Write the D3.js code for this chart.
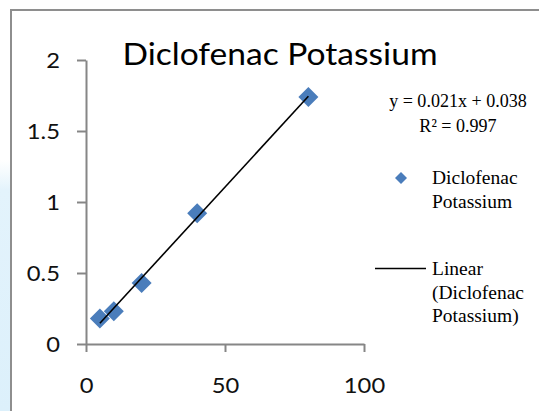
<!DOCTYPE html>
<html>
<head>
<meta charset="utf-8">
<script src="https://cdn.jsdelivr.net/npm/d3@7"></script>
<style>
  html, body { margin: 0; padding: 0; background: #ffffff; }
  svg { display: block; }
</style>
</head>
<body>
<svg id="chart" width="539" height="411"></svg>
<script>
// ---- data ----
const xValues = [5, 10, 20, 40, 80];
const yValues = [0.18, 0.23, 0.43, 0.92, 1.74];
const xTicks = [0, 50, 100];
const xTickLabels = ["0", "50", "100"];
const yTicks = [0, 0.5, 1, 1.5, 2];
const yTickLabels = ["0", "0.5", "1", "1.5", "2"];
const titleText = "Diclofenac Potassium";
const equationLines = ["y = 0.021x + 0.038", "R\u00B2 = 0.997"];
const seriesLegend = ["Diclofenac", "Potassium"];
const trendLegend = ["Linear", "(Diclofenac", "Potassium)"];

// ---- setup ----
const svg = d3.select("#chart");
const W = 539, H = 411;
const sansFont = "Lato, 'Open Sans', sans-serif";
const serifFont = "'Liberation Serif', 'DejaVu Serif', serif";

// stretch text horizontally by factor
function stretch(sel, sx) {
  sel.each(function () {
    const w = this.getComputedTextLength();
    d3.select(this).attr("textLength", w * sx).attr("lengthAdjust", "spacingAndGlyphs");
  });
}

// background strip on the left
const defs = svg.append("defs");
const grad = defs.append("linearGradient").attr("id", "strip").attr("x1", 0).attr("y1", 0).attr("x2", 0).attr("y2", 1);
grad.append("stop").attr("offset", "0%").attr("stop-color", "#e6f4fc").attr("stop-opacity", 0);
grad.append("stop").attr("offset", "12%").attr("stop-color", "#e3f3fc").attr("stop-opacity", 1);
grad.append("stop").attr("offset", "100%").attr("stop-color", "#dcf0fb").attr("stop-opacity", 1);
svg.append("rect").attr("x", 0).attr("y", 160).attr("width", 10).attr("height", H - 160).attr("fill", "url(#strip)");

// frame
svg.append("path").attr("d", `M11,${H} V10 H${W}`).attr("fill", "none")
  .attr("stroke", "#8e8e8e").attr("stroke-width", 2);

// ---- scales ----
const x = d3.scaleLinear().domain([0, 100]).range([86, 364]);
const y = d3.scaleLinear().domain([0, 2]).range([344, 60]);

// ---- axes ----
const axisColor = "#868686";
const yAxis = svg.append("g").attr("transform", `translate(${x(0)},0)`)
  .call(d3.axisLeft(y).tickValues(yTicks).tickSize(9).tickSizeOuter(0).tickPadding(17)
    .tickFormat((d, i) => yTickLabels[i]));
const xAxis = svg.append("g").attr("transform", `translate(0,${y(0)})`)
  .call(d3.axisBottom(x).tickValues(xTicks).tickSize(8).tickSizeOuter(0).tickPadding(26)
    .tickFormat((d, i) => xTickLabels[i]));
[yAxis, xAxis].forEach(a => {
  a.select(".domain").attr("stroke", axisColor).attr("stroke-width", 2);
  a.selectAll(".tick line").attr("stroke", axisColor).attr("stroke-width", 2);
  a.selectAll(".tick text").attr("fill", "#111").style("font-family", sansFont).style("font-size", "21px");
});
yAxis.selectAll(".tick text").attr("dy", "0.36em");
stretch(yAxis.selectAll(".tick text"), 1.13);
stretch(xAxis.selectAll(".tick text"), 1.13);

// ---- trendline (least squares from the data) ----
const n = xValues.length;
const mx = d3.mean(xValues), my = d3.mean(yValues);
let sxy = 0, sxx = 0;
for (let i = 0; i < n; i++) { sxy += (xValues[i] - mx) * (yValues[i] - my); sxx += (xValues[i] - mx) ** 2; }
const slope = sxy / sxx, intercept = my - slope * mx;
const xExt = d3.extent(xValues);

// ---- markers ----
const diamond = r => `M0,${-r} L${r},0 L0,${r} L${-r},0 Z`;
const markerColor = "#4a7dbb";
svg.append("g").selectAll("path").data(xValues).join("path")
  .attr("d", diamond(10))
  .attr("transform", (d, i) => `translate(${x(d)},${y(yValues[i])})`)
  .attr("fill", markerColor);

svg.append("line")
  .attr("x1", x(xExt[0])).attr("y1", y(intercept + slope * xExt[0]))
  .attr("x2", x(xExt[1])).attr("y2", y(intercept + slope * xExt[1]))
  .attr("stroke", "#000").attr("stroke-width", 1.6);

// ---- title ----
const title = svg.append("text").attr("x", 280).attr("y", 65).attr("text-anchor", "middle")
  .style("font-family", sansFont).style("font-size", "30px").attr("fill", "#000").text(titleText);
title.attr("textLength", 315).attr("lengthAdjust", "spacingAndGlyphs");

// ---- equation ----
const eq = svg.append("g");
eq.selectAll("text").data(equationLines).join("text")
  .attr("x", 458).attr("y", (d, i) => 107 + i * 24.5).attr("text-anchor", "middle")
  .style("font-family", serifFont).style("font-size", "19px").attr("fill", "#000")
  .text(d => d);
stretch(eq.selectAll("text"), 0.95);

// ---- legend ----
svg.append("path").attr("d", diamond(6)).attr("transform", "translate(401,178)").attr("fill", markerColor);
const lg1 = svg.append("g");
lg1.selectAll("text").data(seriesLegend).join("text")
  .attr("x", 432).attr("y", (d, i) => 184 + i * 23.5)
  .style("font-family", serifFont).style("font-size", "19.5px").attr("fill", "#000").text(d => d);

svg.append("line").attr("x1", 375).attr("x2", 426).attr("y1", 268.5).attr("y2", 268.5)
  .attr("stroke", "#000").attr("stroke-width", 1.6);
const lg2 = svg.append("g");
lg2.selectAll("text").data(trendLegend).join("text")
  .attr("x", 432).attr("y", (d, i) => 275 + i * 23.5)
  .style("font-family", serifFont).style("font-size", "19.5px").attr("fill", "#000").text(d => d);
</script>
</body>
</html>
